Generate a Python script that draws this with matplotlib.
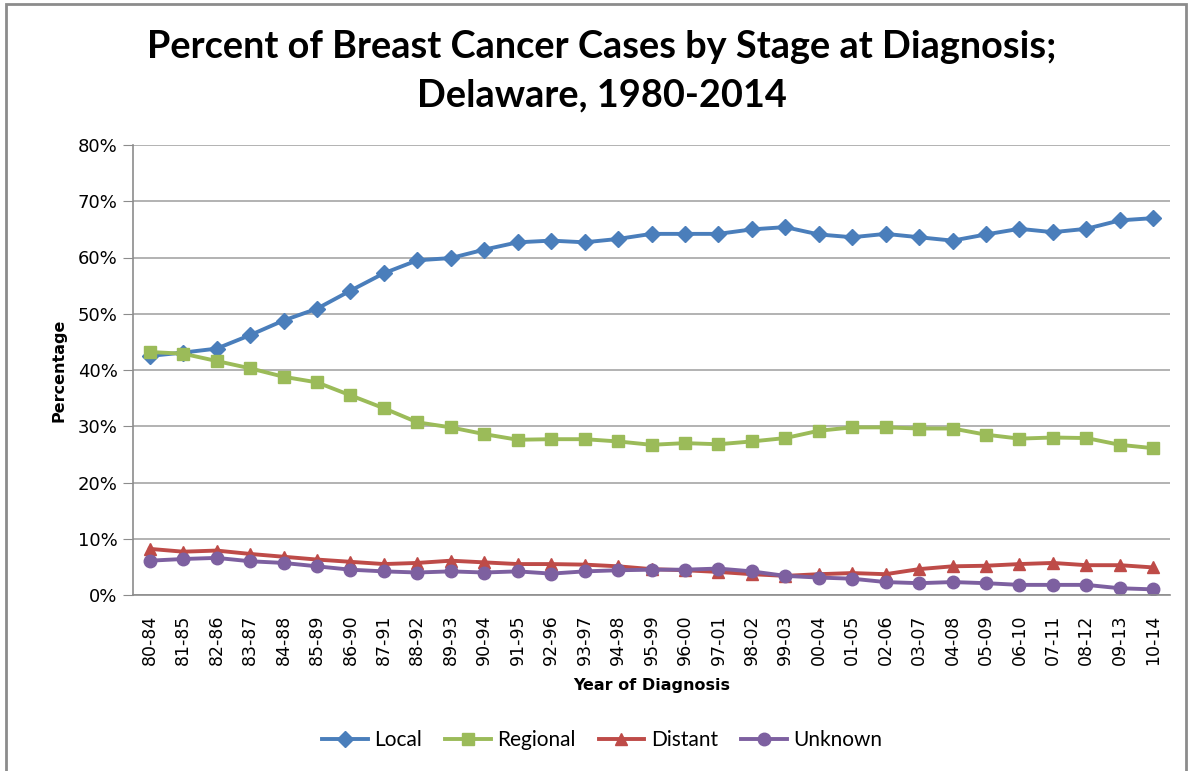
import numpy as np
import matplotlib
matplotlib.use("Agg")
import matplotlib.pyplot as plt
import matplotlib.ticker as tick
from matplotlib.patches import Rectangle

years = ['80-84', '81-85', '82-86', '83-87', '84-88', '85-89', '86-90', '87-91',
         '88-92', '89-93', '90-94', '91-95', '92-96', '93-97', '94-98', '95-99',
         '96-00', '97-01', '98-02', '99-03', '00-04', '01-05', '02-06', '03-07',
         '04-08', '05-09', '06-10', '07-11', '08-12', '09-13', '10-14']

local = [42.5, 43.1, 43.8, 46.2, 48.8, 50.9, 54.1, 57.2, 59.5, 59.9, 61.4,
         62.7, 63.0, 62.7, 63.3, 64.2, 64.2, 64.2, 65.0, 65.4, 64.1, 63.6,
         64.2, 63.6, 63.0, 64.1, 65.1, 64.5, 65.1, 66.6, 67.0]
regional = [43.2, 42.9, 41.6, 40.3, 38.8, 37.8, 35.5, 33.2, 30.7, 29.8, 28.6,
            27.6, 27.7, 27.7, 27.3, 26.7, 27.0, 26.8, 27.3, 27.9, 29.2, 29.8,
            29.8, 29.6, 29.6, 28.5, 27.8, 28.0, 27.9, 26.7, 26.1]
distant = [8.2, 7.7, 7.9, 7.3, 6.8, 6.3, 5.9, 5.5, 5.7, 6.1, 5.8, 5.5, 5.5,
           5.4, 5.1, 4.6, 4.4, 4.1, 3.7, 3.4, 3.7, 3.9, 3.7, 4.6, 5.1, 5.2,
           5.5, 5.7, 5.3, 5.3, 4.9]
unknown = [6.1, 6.4, 6.6, 6.0, 5.7, 5.1, 4.5, 4.2, 4.0, 4.2, 4.0, 4.2, 3.8,
           4.2, 4.4, 4.5, 4.5, 4.7, 4.2, 3.4, 3.1, 2.9, 2.3, 2.1, 2.3, 2.1,
           1.8, 1.8, 1.8, 1.2, 1.0]

W, H = 1192, 771
fig = plt.figure(figsize=(W / 100, H / 100), dpi=100)
ax = fig.add_axes([133 / W, 1 - 595 / H, (1170 - 133) / W, (595 - 145) / H])

x = np.arange(len(years))
ax.plot(x, local, color='#4A7EBB', lw=2.8, marker='D', ms=8, label='Local')
ax.plot(x, regional, color='#9BBB59', lw=2.8, marker='s', ms=9, label='Regional')
ax.plot(x, distant, color='#BE4B48', lw=2.8, marker='^', ms=9, label='Distant')
ax.plot(x, unknown, color='#7D60A0', lw=2.8, marker='o', ms=9, label='Unknown')

ax.set_xlim(-0.5, len(years) - 0.5)
ax.set_ylim(0, 80)
ax.yaxis.set_major_locator(tick.MultipleLocator(10))
ax.yaxis.set_major_formatter(tick.FuncFormatter(lambda v, p: '{:.0f}%'.format(v)))
ax.set_xticks(x)
ax.set_xticklabels(years, rotation=90, fontsize=12.5, family='DejaVu Sans')
ax.tick_params(axis='x', length=0, pad=14)
ax.tick_params(axis='y', labelsize=13, length=7, color='#8C8C8C', pad=4)

ax.grid(axis='y', color='#A6A6A6', lw=1.2)
ax.set_axisbelow(True)
for s in ['top', 'right']:
    ax.spines[s].set_visible(False)
for s in ['left', 'bottom']:
    ax.spines[s].set_color('#8C8C8C')
    ax.spines[s].set_linewidth(1.2)

ax.set_xlabel('Year of Diagnosis', fontsize=11.5, fontweight='bold', labelpad=9)
ax.set_ylabel('Percentage', fontsize=11.5, fontweight='bold', labelpad=8)

fig.text(0.505, 1 - 71 / H, 'Percent of Breast Cancer Cases by Stage at Diagnosis;\nDelaware, 1980-2014',
         ha='center', va='center', fontsize=27.3, fontweight='bold', family='Lato', linespacing=1.5)

fig.legend(loc='center', bbox_to_anchor=(0.505, 1 - 740 / H), ncol=4, frameon=False,
           prop={'family': 'Lato', 'size': 15}, handlelength=2.2, columnspacing=1.1, handletextpad=0.3)

fig.patches.append(Rectangle((6 / W, -0.01), (1180) / W, 1 - 4 / H + 0.01, transform=fig.transFigure,
                             fill=False, edgecolor='#8C8C8C', lw=2))

plt.savefig('out.png', dpi=100)
plt.close()
